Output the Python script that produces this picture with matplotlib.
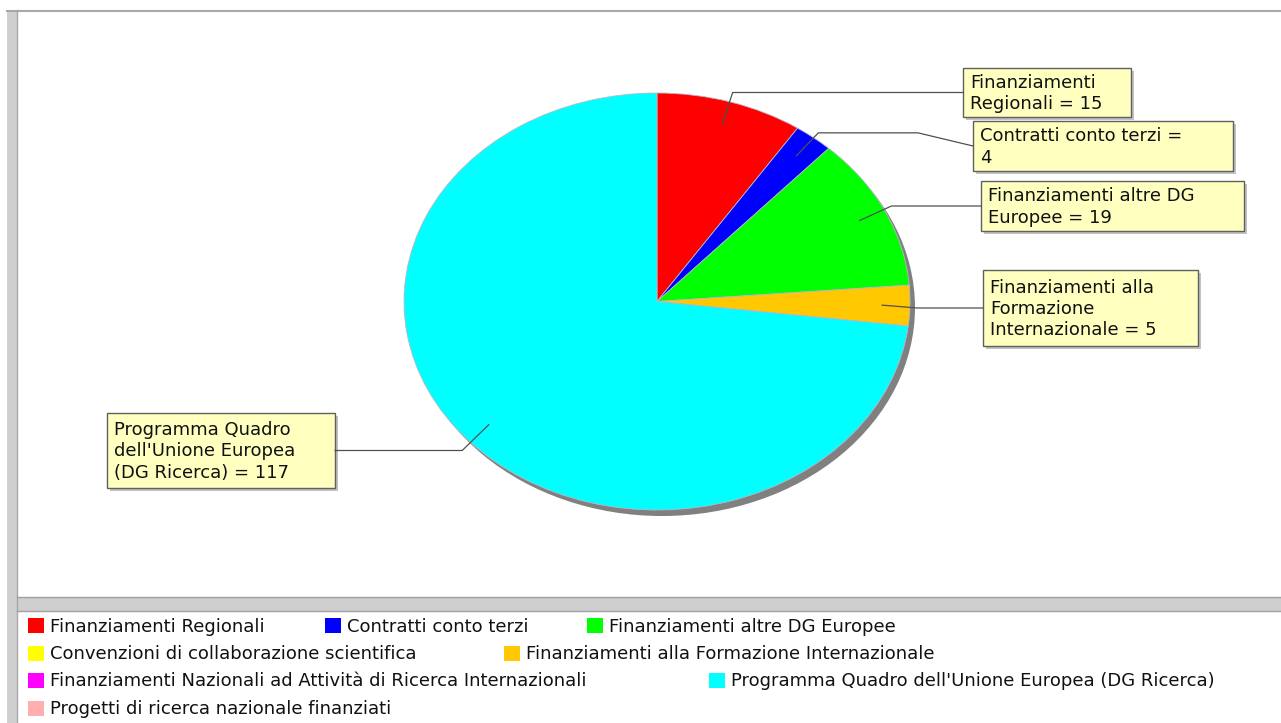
import textwrap
import numpy as np
from matplotlib import pyplot as plt
from matplotlib.patches import Rectangle, Ellipse

# data
categories = ["Finanziamenti Regionali", "Contratti conto terzi",
              "Finanziamenti altre DG Europee",
              "Convenzioni di collaborazione scientifica",
              "Finanziamenti alla Formazione Internazionale",
              "Finanziamenti Nazionali ad Attività di Ricerca Internazionali",
              "Programma Quadro dell'Unione Europea (DG Ricerca)",
              "Progetti di ricerca nazionale finanziati"]
values = [15, 4, 19, 0, 5, 0, 117, 0]
colors = ["#ff0000", "#0000ff", "#00ff00", "#ffff00", "#ffc800",
          "#ff00ff", "#00ffff", "#ffafaf"]

# label layout: category index -> (wrap width, box left, top, right, bottom) in px
label_layout = {0: (14, 963, 68, 1131, 117),
                1: (23, 973, 121, 1233, 171),
                2: (22, 981, 181, 1244, 231),
                4: (18, 983, 270, 1198, 346),
                6: (19, 107, 413, 335, 488)}

# legend layout: rows of (category index, square x)
legend_rows = [[(0, 28), (1, 325), (2, 587)],
               [(3, 28), (4, 504)],
               [(5, 28), (6, 709)],
               [(7, 28)]]
legend_y = [625.5, 653, 680.5, 708]

W, H = 1281, 723
FONT = 13
fig = plt.figure(figsize=(W / 100, H / 100), dpi=100)

#background frame (pixel coords)
bg = fig.add_axes([0, 0, 1, 1], zorder=0)
bg.set_xlim(0, W)
bg.set_ylim(H, 0)
bg.axis('off')
bg.add_patch(Rectangle((7, 10), 10, H - 10, fc='#cfcfcf', ec='none'))
bg.plot([17, 17], [10, H], color='#a8a8a8', lw=1)
bg.plot([7, W], [10.5, 10.5], color='#a8a8a8', lw=1.5)
bg.add_patch(Rectangle((7, 597), W - 7, 14, fc='#cfcfcf', ec='none'))
bg.plot([17, W], [597, 597], color='#a0a0a0', lw=1)
bg.plot([17, W], [611, 611], color='#a0a0a0', lw=1)

#pie, stretched to ellipse
cx0, cy0, cx1, cy1 = 404, 93, 910, 510
pax = fig.add_axes([cx0 / W, 1 - cy1 / H, (cx1 - cx0) / W, (cy1 - cy0) / H], zorder=1)
shadow = Ellipse((5 / 253, -6 / 208), 2, 2, fc='#808080', ec='none', zorder=0)
shadow.set_clip_on(False)
pax.add_patch(shadow)
nz = [i for i, v in enumerate(values) if v > 0]
wedges, _ = pax.pie([values[i] for i in nz], colors=[colors[i] for i in nz],
                    startangle=90, counterclock=False, radius=1, frame=True,
                    wedgeprops=dict(linewidth=0.6, edgecolor='#b8b8c8'))
for w in wedges:
    w.set_clip_on(False)
    w.set_zorder(1)
pax.set_aspect('auto')
pax.set_xlim(-1, 1)
pax.set_ylim(-1, 1)
pax.axis('off')

#overlay for links, labels, legend
ov = fig.add_axes([0, 0, 1, 1], zorder=2)
ov.set_xlim(0, W)
ov.set_ylim(H, 0)
ov.axis('off')
ov.patch.set_alpha(0)

def to_px(x, y):
    d = pax.transData.transform((x, y))
    return ov.transData.inverted().transform(d)

total = float(sum(values))
cum = np.cumsum([0] + values)
for i, (wrap, l, t, r, b) in label_layout.items():
    mid = np.deg2rad((cum[i] + cum[i + 1]) / 2 / total * 360)
    ax_, ay_ = to_px(0.89 * np.sin(mid), 0.89 * np.cos(mid))
    ex, ey = to_px(1.03 * np.sin(mid), 1.03 * np.cos(mid))
    my = (t + b) / 2
    if abs(ey - my) < 8:
        ey = my
    if ex > l:
        bx, kx = r, r + 55
    else:
        bx, kx = l, l - 55
    ov.plot([ax_, ex, kx, bx], [ay_, ey, ey, my], color='#505050', lw=0.9)
    ov.add_patch(Rectangle((l + 3, t + 3), r - l, b - t, fc='#a8a8a8', ec='none', alpha=0.7))
    ov.add_patch(Rectangle((l, t), r - l, b - t, fc='#ffffc0', ec='#606060', lw=1))
    txt = textwrap.fill(f"{categories[i]} = {values[i]}", width=wrap)
    ov.text(l + 7, my + 1, txt, fontsize=FONT, ha='left', va='center',
            color='#111111', linespacing=1.22)

for row, y in zip(legend_rows, legend_y):
    for i, sx in row:
        ov.add_patch(Rectangle((sx, y - 7.5), 16, 15, fc=colors[i], ec='none'))
        ov.text(sx + 22, y + 1, categories[i], fontsize=FONT, ha='left', va='center',
                color='#111111')

plt.savefig('out.png', dpi=100)
